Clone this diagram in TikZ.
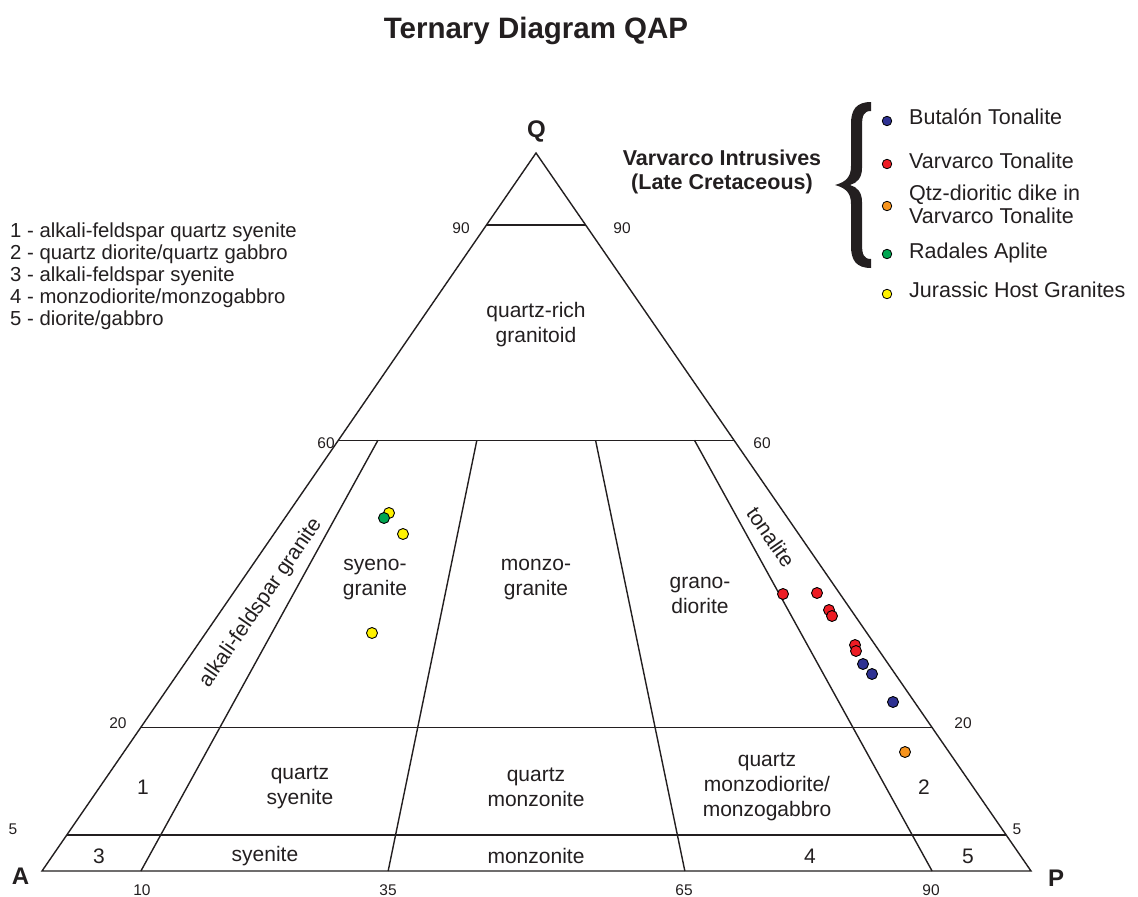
\documentclass[tikz,border=0pt]{standalone}
\usepackage{fontspec}
\setmainfont{Liberation Sans}
\usetikzlibrary{calc}
\definecolor{ptblue}{HTML}{2E3192}
\definecolor{ptred}{HTML}{ED1C24}
\definecolor{ptorange}{HTML}{F7941D}
\definecolor{ptgreen}{HTML}{00A651}
\definecolor{ptyellow}{HTML}{FFF200}
\definecolor{txt}{HTML}{231F20}
\tikzset{
  edge/.style={line width=1.4pt, draw=txt},
  region/.style={font=\fontsize{21}{25}\selectfont, text=txt, align=center, inner sep=0pt},
  tick/.style={font=\fontsize{15.5}{18}\selectfont, text=txt, inner sep=0pt},
  apex/.style={font=\fontsize{24}{28}\selectfont\bfseries, text=txt, inner sep=0pt},
  leg/.style={font=\fontsize{20.3}{22}\selectfont, text=txt, anchor=base west, inner sep=0pt},
  rleg/.style={font=\fontsize{21.5}{24}\selectfont, text=txt, anchor=mid west, inner sep=0pt},
  dot/.style={circle, draw=black, line width=0.9pt, inner sep=0pt, minimum size=11pt},
  ldot/.style={circle, draw=black, line width=0.8pt, inner sep=0pt, minimum size=9.5pt}
}
\begin{document}
\begin{tikzpicture}[x=1pt,y=-1pt]
\useasboundingbox (0,0) rectangle (1138,897);
\fill[white] (0,0) rectangle (1138,897);

% title
\node[font=\fontsize{29.5}{34}\selectfont\bfseries, text=txt, anchor=base, inner sep=0pt] (title) at (536,38) {Ternary Diagram QAP};

% vertices
\coordinate (A) at (42,871);
\coordinate (P) at (1031,871);
\coordinate (Q) at (536,153);
\draw[edge, line join=miter] (A) -- (P) -- (Q) -- cycle;

% horizontal lines
\foreach \q/\n in {0.9/h90, 0.6/h60, 0.2/h20, 0.05/h05}{
  \coordinate (\n l) at ($(A)!\q!(Q)$);
  \coordinate (\n r) at ($(P)!\q!(Q)$);
  \draw[edge] (\n l) -- (\n r);
}
% dividers
\foreach \f/\n in {0.1/d10, 0.35/d35, 0.65/d65, 0.9/d90}{
  \coordinate (\n b) at ($(A)!\f!(P)$);
  \coordinate (\n t) at ($(\n b)!0.6!(Q)$);
  \draw[edge] (\n b) -- (\n t);
}

\node[apex] (lA) at (20.5,876) {A};
\node[apex] (lP) at (1056,878) {P};
\node[apex] (lQ) at (536.5,131) {Q};

% ticks
\node[tick] (t90l) at (461,228) {90};
\node[tick] (t90r) at (622,228) {90};
\node[tick] (t60l) at (326,443) {60};
\node[tick] (t60r) at (762,443) {60};
\node[tick] (t20l) at (118,723) {20};
\node[tick] (t20r) at (963,723) {20};
\node[tick] (t5l) at (13,829) {5};
\node[tick] (t5r) at (1017,829) {5};
\node[tick] (b10) at (142,890) {10};
\node[tick] (b35) at (388,890) {35};
\node[tick] (b65) at (684,890) {65};
\node[tick] (b90) at (931,890) {90};

% region labels
\node[region] (qrg) at (536,325) {quartz-rich\\granitoid};
\node[region, rotate=55.47] (afg) at (261,603) {alkali-feldspar granite};
\node[region] (syg) at (375,580) {syeno-\\granite};
\node[region] (mzg) at (536,580) {monzo-\\granite};
\node[region] (grd) at (700,595) {grano-\\diorite};
\node[region, rotate=-55.47] (ton) at (771,537) {tonalite};
\node[region] (r1) at (143,787) {1};
\node[region] (qsy) at (300,787) {quartz\\syenite};
\node[region] (qmz) at (536,787) {quartz\\monzonite};
\node[region] (qmd) at (767,787) {quartz\\monzodiorite/\\monzogabbro};
\node[region] (r2) at (924,787) {2};
\node[region] (r3) at (99,856) {3};
\node[region] (sye) at (265,856) {syenite};
\node[region] (mzn) at (536,856) {monzonite};
\node[region] (r4) at (810,856) {4};
\node[region] (r5) at (968,856) {5};

% left legend
\node[leg] (l1) at (10,237) {1 - alkali-feldspar quartz syenite};
\node[leg] (l2) at (10,259) {2 - quartz diorite/quartz gabbro};
\node[leg] (l3) at (10,281) {3 - alkali-feldspar syenite};
\node[leg] (l4) at (10,303) {4 - monzodiorite/monzogabbro};
\node[leg] (l5) at (10,325) {5 - diorite/gabbro};

% right legend
\node[font=\fontsize{21.5}{24}\selectfont\bfseries, text=txt, align=center, inner sep=0pt] (vi) at (722,172) {Varvarco Intrusives\\(Late Cretaceous)};
\fill[txt]
  (871,102) .. controls (856,102) and (851,110) .. (851,124) -- (851,166)
  .. controls (851,177) and (846,182) .. (835,185)
  .. controls (846,188) and (851,193) .. (851,204) -- (851,246)
  .. controls (851,260) and (856,268) .. (871,268) -- (871,259)
  .. controls (864,259) and (862,255) .. (862,244) -- (862,202)
  .. controls (862,192) and (857,187) .. (850,185)
  .. controls (857,183) and (862,178) .. (862,168) -- (862,126)
  .. controls (862,115) and (864,111) .. (871,111) -- cycle;

\node[ldot, fill=ptblue] (k1) at (887,121) {};
\node[ldot, fill=ptred] (k2) at (887,164) {};
\node[ldot, fill=ptorange] (k3) at (887,206) {};
\node[ldot, fill=ptgreen] (k4) at (887,254) {};
\node[ldot, fill=ptyellow] (k5) at (887,294) {};
\node[rleg] (e1) at (909,122) {Butalón Tonalite};
\node[rleg] (e2) at (909,166) {Varvarco Tonalite};
\node[rleg] (e3a) at (909,198) {Qtz-dioritic dike in};
\node[rleg] (e3b) at (909,221) {Varvarco Tonalite};
\node[rleg] (e4) at (909,256) {Radales Aplite};
\node[rleg] (e5) at (909,295) {Jurassic Host Granites};

% data points
\node[dot, fill=ptyellow] (y1) at (389,513) {};
\node[dot, fill=ptgreen] (g1) at (384,518) {};
\node[dot, fill=ptyellow] (y2) at (403,534) {};
\node[dot, fill=ptyellow] (y3) at (372,633) {};
\node[dot, fill=ptred] (r1p) at (783,594) {};
\node[dot, fill=ptred] (r2p) at (817,593) {};
\node[dot, fill=ptred] (r3p) at (829,610) {};
\node[dot, fill=ptred] (r4p) at (832,616) {};
\node[dot, fill=ptred] (r5p) at (855,645) {};
\node[dot, fill=ptred] (r6p) at (856,651) {};
\node[dot, fill=ptblue] (b1p) at (863,664) {};
\node[dot, fill=ptblue] (b2p) at (872,674) {};
\node[dot, fill=ptblue] (b3p) at (893,702) {};
\node[dot, fill=ptorange] (o1p) at (905,752) {};
\end{tikzpicture}
\end{document}
